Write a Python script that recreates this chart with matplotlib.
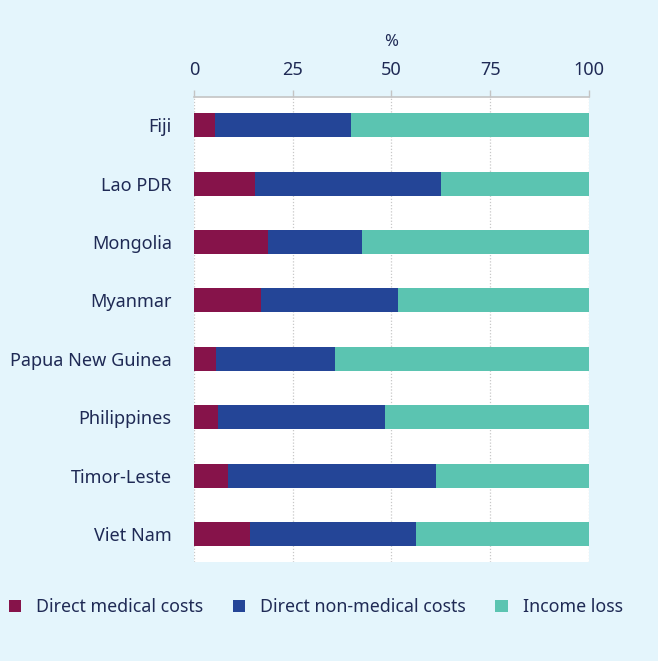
import matplotlib
matplotlib.use("Agg")
import matplotlib.pyplot as plt
import numpy as np

countries = ["Fiji", "Lao PDR", "Mongolia", "Myanmar", "Papua New Guinea",
             "Philippines", "Timor-Leste", "Viet Nam"]
direct_medical = [5.2, 15.4, 18.7, 17.0, 5.7, 6.2, 8.5, 14.2]
direct_non_medical = [34.6, 47.1, 23.9, 34.7, 30.1, 42.1, 52.8, 42.1]
income_loss = [60.2, 37.5, 57.4, 48.3, 64.2, 51.7, 38.7, 43.7]
ticks = [0, 25, 50, 75, 100]
series_names = ["Direct medical costs", "Direct non-medical costs", "Income loss"]
colors = ["#86134a", "#244597", "#5bc4b1"]

plt.rcParams['font.family'] = ['Noto Sans', 'DejaVu Sans']
text_color = "#1f2a55"
bg = "#e4f5fc"

fig = plt.figure(figsize=(6.58, 6.61), dpi=100, facecolor=bg)
ax = fig.add_axes([0.2948, 0.150, 0.6003, 0.7033])
ax.set_facecolor("white")

y = np.arange(len(countries))
left = np.zeros(len(countries))
for name, vals, c in zip(series_names, [direct_medical, direct_non_medical, income_loss], colors):
    ax.barh(y, vals, left=left, height=0.41, color=c, label=name, zorder=3)
    left = left + np.array(vals)

ax.set_xlim(0, 100)
ax.set_ylim(len(countries) - 0.53, -0.48)
ax.set_yticks(y)
ax.set_yticklabels(countries, fontsize=13, color=text_color)
ax.set_xticks(ticks)
ax.set_xticklabels([str(t) for t in ticks], fontsize=13, color=text_color)
ax.xaxis.tick_top()
ax.xaxis.set_label_position("top")
ax.set_xlabel("%", fontsize=12, color=text_color, labelpad=11)
ax.tick_params(axis='x', direction='out', length=5, color="#c4c4c4", pad=8, width=1)
ax.tick_params(axis='y', length=0, pad=16)
for s in ["left", "right", "bottom"]:
    ax.spines[s].set_visible(False)
ax.spines["top"].set_color("#c4c4c4")
ax.spines["top"].set_linewidth(1.2)
ax.grid(axis='x', linestyle=(0, (1, 1.5)), color="#c8c8c8", linewidth=0.9, zorder=0)
ax.set_axisbelow(True)

handles, labels = ax.get_legend_handles_labels()
leg = fig.legend(handles, labels, loc="center left", bbox_to_anchor=(-0.011, 0.081),
                 ncol=3, frameon=False, fontsize=12.8, handlelength=0.7, handleheight=0.7,
                 handletextpad=0.85, columnspacing=1.65, labelcolor=text_color)

fig.savefig("out.png", dpi=100, facecolor=bg)
